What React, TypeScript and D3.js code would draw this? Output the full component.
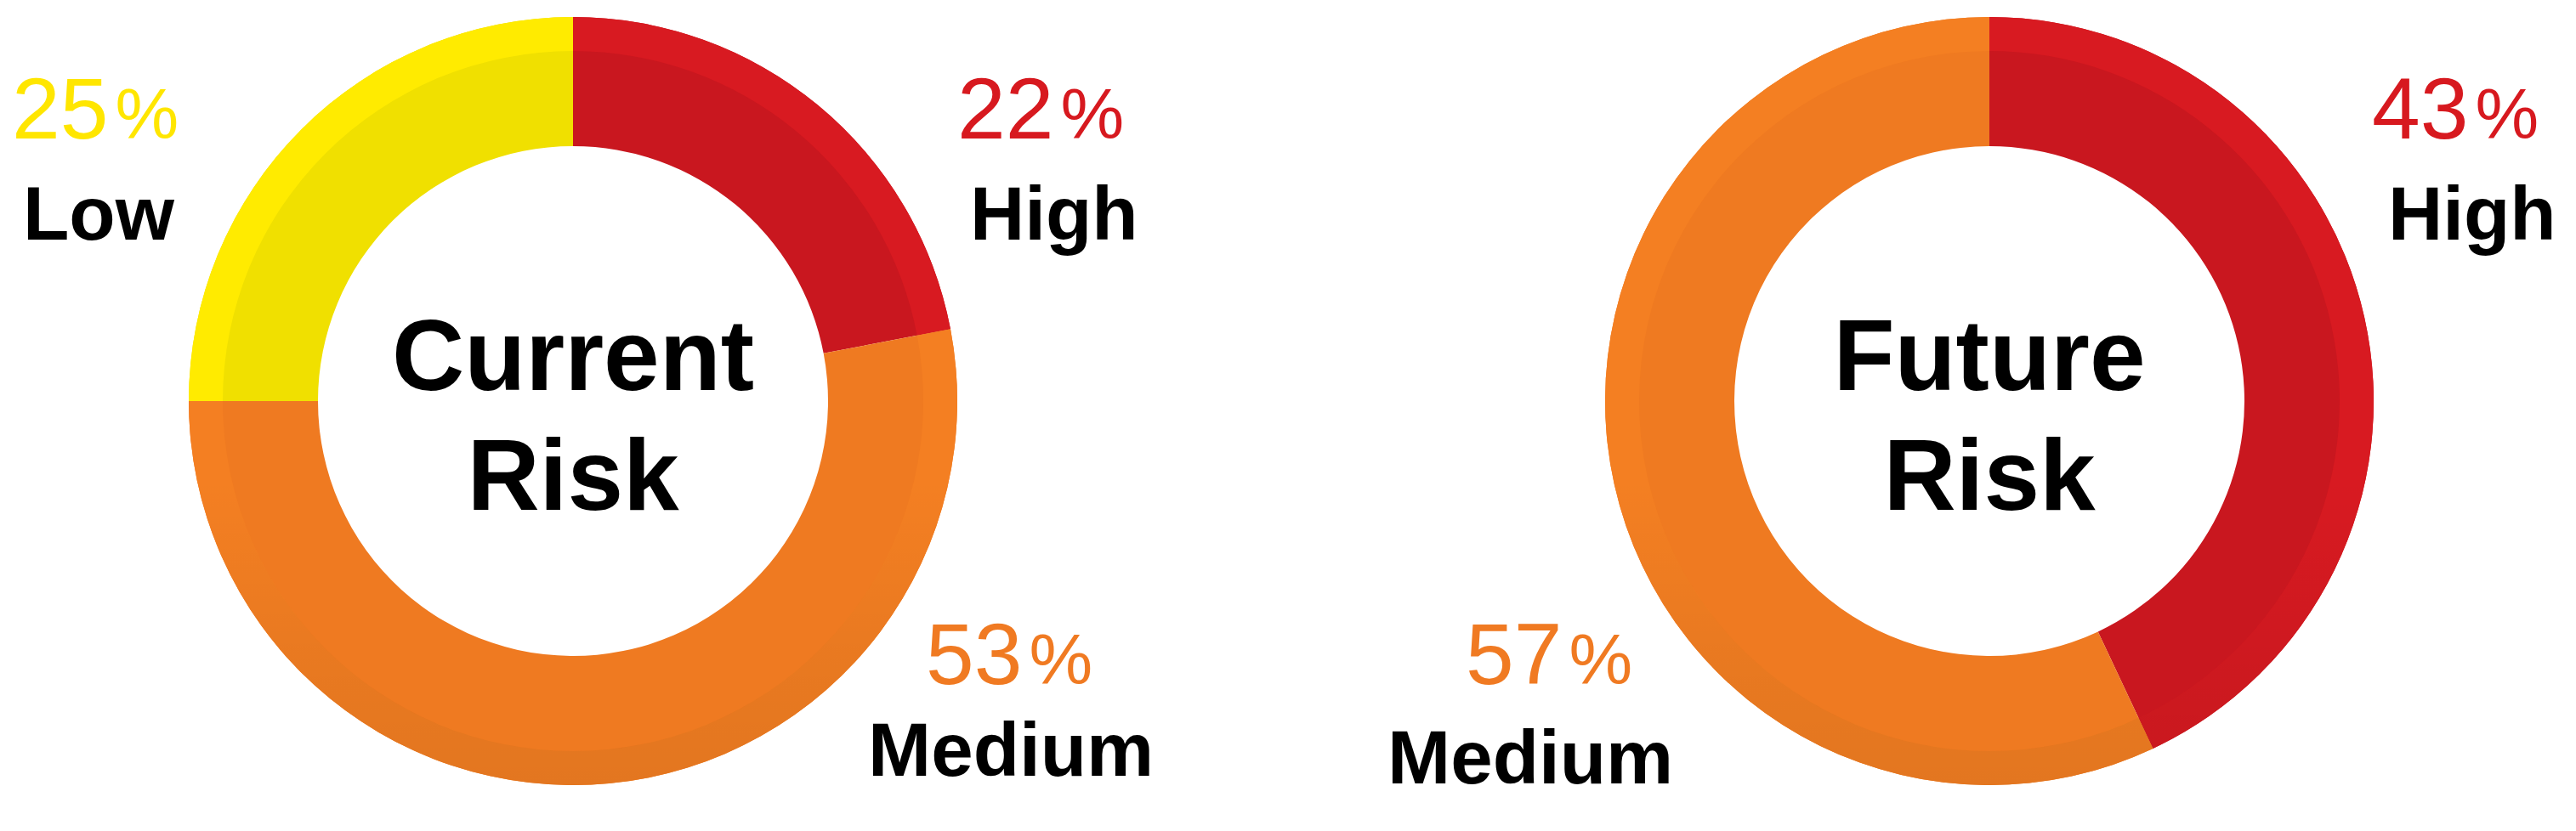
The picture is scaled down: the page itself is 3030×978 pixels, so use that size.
import React from "react";
import * as d3 from "d3";

// ---- data ----
const currentCategories = ["High", "Medium", "Low"];
const currentValues = [22, 53, 25];
const futureCategories = ["High", "Medium"];
const futureValues = [43, 57];
const chartTitles = [["Current", "Risk"], ["Future", "Risk"]];

// ---- styles ----
const W = 3030;
const H = 978;
const R = 452;
const r = 300;
const RIM = 40;
const FONT = "'Liberation Sans', Arial, Helvetica, sans-serif";
const bodyColor: Record<string, string> = { High: "#C9171F", Medium: "#EF7A21", Low: "#F0E000" };
const rimColor: Record<string, string> = { High: "#D81A21", Medium: "#F47F22", Low: "#FFEB00" };
const labelColor: Record<string, string> = { High: "#D7191F", Medium: "#F07A22", Low: "#FFE600" };

type Lbl = { cat: string; x: number; pctY: number; nameX: number; nameY: number };

const currentLabels: Lbl[] = [
  { cat: "High", x: 1126, pctY: 163, nameX: 1141, nameY: 282 },
  { cat: "Medium", x: 1089, pctY: 805, nameX: 1021, nameY: 913 },
  { cat: "Low", x: 14, pctY: 163, nameX: 27, nameY: 282 },
];
const futureLabels: Lbl[] = [
  { cat: "High", x: 2790, pctY: 163, nameX: 2809, nameY: 282 },
  { cat: "Medium", x: 1724, pctY: 805, nameX: 1632, nameY: 922 },
];

function Donut({ cx, cy, cats, vals, title, labels, id }: any) {
  const pie = d3.pie<number>().sort(null).value((d) => d);
  const arcs = pie(vals);
  const body = d3.arc<any>().innerRadius(r).outerRadius(R);
  const rim = d3.arc<any>().innerRadius(R - RIM).outerRadius(R);
  const ring = d3.arc<any>().innerRadius(R - RIM).outerRadius(R).startAngle(0).endAngle(2 * Math.PI);
  return (
    <g>
      <defs>
        <linearGradient id={`shade-${id}`} x1="0" y1={-R} x2="0" y2={R} gradientUnits="userSpaceOnUse">
          <stop offset="0" stopColor="#000" stopOpacity={0} />
          <stop offset="0.6" stopColor="#000" stopOpacity={0} />
          <stop offset="0.85" stopColor="#000" stopOpacity={0.05} />
          <stop offset="1" stopColor="#000" stopOpacity={0.07} />
        </linearGradient>
      </defs>
      <g transform={`translate(${cx},${cy})`}>
        {arcs.map((a, i) => (
          <path key={"b" + i} d={body(a) as string} fill={bodyColor[cats[i]]} />
        ))}
        {arcs.map((a, i) => (
          <path key={"r" + i} d={rim(a) as string} fill={rimColor[cats[i]]} />
        ))}
        <path d={ring({}) as string} fill={`url(#shade-${id})`} />
        <text textAnchor="middle" style={{ fontFamily: FONT, fontWeight: 700, fontSize: 118 }} fill="#000">
          <tspan x={0} y={-13}>{title[0]}</tspan>
          <tspan x={0} y={128}>{title[1]}</tspan>
        </text>
      </g>
      {labels.map((l: Lbl) => {
        const i = cats.indexOf(l.cat);
        return (
          <g key={l.cat}>
            <text x={l.x} y={l.pctY} style={{ fontFamily: FONT, fontWeight: 400 }} fill={labelColor[l.cat]}>
              <tspan style={{ fontSize: 102 }}>{vals[i]}</tspan>
              <tspan style={{ fontSize: 84 }} dx={8}>%</tspan>
            </text>
            <text x={l.nameX} y={l.nameY} style={{ fontFamily: FONT, fontWeight: 700, fontSize: 89 }} fill="#000">
              {l.cat}
            </text>
          </g>
        );
      })}
    </g>
  );
}

export default function App() {
  return (
    <svg
      width={W}
      height={H}
      viewBox={`0 0 ${W} ${H}`}
      style={{ position: "absolute", left: 0, top: 0, background: "#fff" }}
    >
      <rect x={0} y={0} width={W} height={H} fill="#fff" />
      <Donut cx={674} cy={472} cats={currentCategories} vals={currentValues} title={chartTitles[0]} labels={currentLabels} id="cur" />
      <Donut cx={2340} cy={472} cats={futureCategories} vals={futureValues} title={chartTitles[1]} labels={futureLabels} id="fut" />
    </svg>
  );
}
